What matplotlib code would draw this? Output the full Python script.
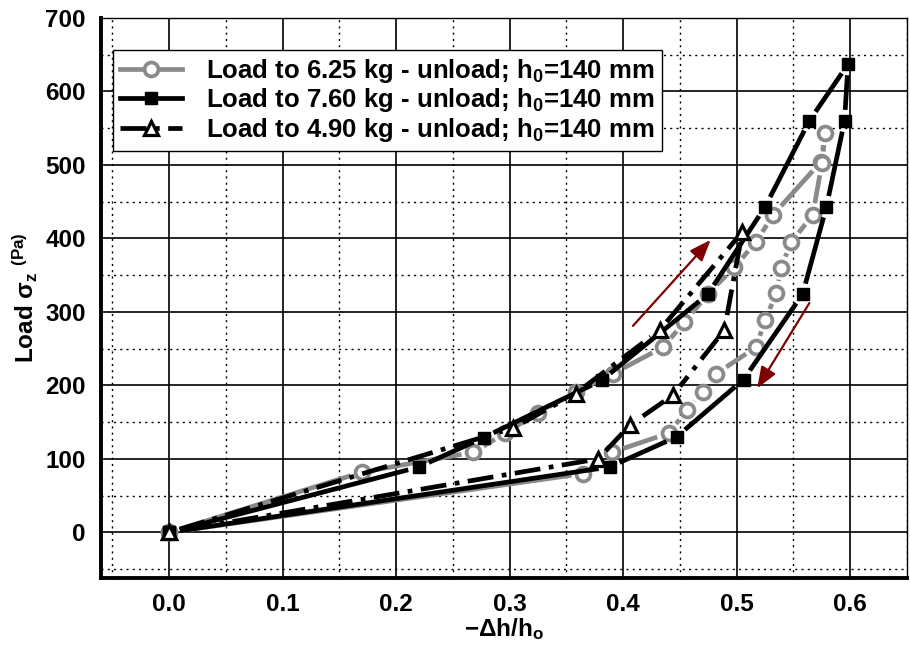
import matplotlib as mpl
import matplotlib.pyplot as plt
import numpy as np
from matplotlib.lines import Line2D
from matplotlib.ticker import MultipleLocator

mpl.rcParams['font.family'] = ['Liberation Sans', 'DejaVu Sans']
mpl.rcParams['font.weight'] = 'bold'
mpl.rcParams['mathtext.fontset'] = 'custom'
mpl.rcParams['mathtext.rm'] = 'Liberation Sans:bold'
mpl.rcParams['mathtext.it'] = 'Liberation Sans:bold'
mpl.rcParams['mathtext.bf'] = 'Liberation Sans:bold'

# 6.25 kg (灰色・丸)
x_625 = [0, 0.170, 0.268, 0.296, 0.325, 0.358, 0.391, 0.435, 0.454, 0.475, 0.498, 0.517, 0.532, 0.574, 0.578,
         0.575, 0.567, 0.548, 0.539, 0.535, 0.525, 0.517, 0.482, 0.470, 0.456, 0.440, 0.390, 0.365, 0]
y_625 = [0, 82, 109, 135, 163, 191, 216, 252, 286, 325, 361, 395, 432, 504, 543,
         502, 432, 395, 360, 326, 289, 252, 216, 191, 166, 135, 109, 80, 0]

# 7.60 kg (黒・四角)
x_760 = [0, 0.220, 0.277, 0.381, 0.4745, 0.525, 0.564, 0.598, 0.595, 0.579, 0.558, 0.506, 0.447, 0.388, 0]
y_760 = [0, 89, 129, 207, 324, 443, 560, 637, 560, 443, 324, 208, 130, 89, 0]

# 4.90 kg (黒・三角)
x_490 = [0, 0.303, 0.358, 0.432, 0.505, 0.489, 0.444, 0.406, 0.378, 0]
y_490 = [0, 142, 189, 275, 409, 275, 187, 146, 100, 0]

labels = ["Load to 6.25 kg - unload; h$_0$=140 mm",
          "Load to 7.60 kg - unload; h$_0$=140 mm",
          "Load to 4.90 kg - unload; h$_0$=140 mm"]

# 矢印 (始点, 終点)
arrows = [((0.4086, 281), (0.477, 398)),
          ((0.564, 312), (0.518, 196))]

fs = 17.5

fig = plt.figure(figsize=(9.1, 6.55), dpi=100)
ax = fig.add_axes([0.111, 0.1176, 0.8857, 0.855])
ax.set_xlim(-0.06, 0.65)
ax.set_ylim(-62, 700)

ax.xaxis.set_major_locator(MultipleLocator(0.1))
ax.xaxis.set_minor_locator(MultipleLocator(0.05))
ax.yaxis.set_major_locator(MultipleLocator(100))
ax.yaxis.set_minor_locator(MultipleLocator(50))
ax.grid(which='major', color='black', linestyle='-', linewidth=1.2)
ax.grid(which='minor', color='black', linestyle=(0, (1.5, 3)), linewidth=1.0)
ax.set_axisbelow(True)
ax.tick_params(which='both', direction='in', length=0, labelsize=fs, pad=11)
ax.set_xticks(np.arange(0, 0.61, 0.1))
ax.xaxis.set_major_formatter(mpl.ticker.FormatStrFormatter('%.1f'))
for lbl in ax.get_xticklabels() + ax.get_yticklabels():
    lbl.set_fontweight('bold')

for s in ['left', 'bottom']:
    ax.spines[s].set_linewidth(2.8)
for s in ['top', 'right']:
    ax.spines[s].set_linewidth(1.0)


def gapped(x, y, gap, **kw):
    # マーカー前後で線を切る
    trans = ax.transData
    pts = trans.transform(np.column_stack([x, y]))
    for p0, p1 in zip(pts[:-1], pts[1:]):
        d = p1 - p0
        L = np.hypot(d[0], d[1])
        if L <= 2 * gap:
            continue
        u = d / L
        seg = trans.inverted().transform(np.array([p0 + u * gap, p1 - u * gap]))
        ax.plot(seg[:, 0], seg[:, 1], solid_capstyle='butt', dash_capstyle='butt', **kw)


gray = '#8a8a8a'
lw = 3.4
gapped(x_625, y_625, 12, color=gray, linewidth=lw, zorder=3)
ax.plot(x_625, y_625, linestyle='none', marker='o', markersize=10, markerfacecolor='white',
        markeredgecolor=gray, markeredgewidth=2.7, zorder=4)

gapped(x_760, y_760, 11, color='black', linewidth=lw, zorder=5)
ax.plot(x_760, y_760, linestyle='none', marker='s', markersize=8.5, color='black', zorder=6)

gapped(x_490, y_490, 11, color='black', linewidth=lw, dashes=(5.5, 1.8, 1, 1.8), zorder=7)
ax.plot(x_490, y_490, linestyle='none', marker='^', markersize=10, markerfacecolor='white',
        markeredgecolor='black', markeredgewidth=2.3, zorder=8)

for (x0, y0), (x1, y1) in arrows:
    ax.annotate('', xy=(x1, y1), xytext=(x0, y0),
                arrowprops=dict(arrowstyle='-|>,head_length=1.3,head_width=0.5',
                                color='#7f0000', linewidth=1.6, shrinkA=0, shrinkB=0),
                zorder=9)

handles = [
    Line2D([], [], color=gray, linewidth=lw, marker='o', markersize=10, markerfacecolor='white',
           markeredgecolor=gray, markeredgewidth=2.7),
    Line2D([], [], color='black', linewidth=lw, marker='s', markersize=8.5),
    Line2D([], [], color='black', linewidth=lw, dashes=(5.5, 1.8, 1, 1.8), marker='^', markersize=10,
           markerfacecolor='white', markeredgecolor='black', markeredgewidth=2.3),
]
leg = ax.legend(handles, labels, loc='upper left', bbox_to_anchor=(0.015, 0.943), borderaxespad=0,
                fontsize=18.5, handlelength=2.4, labelspacing=0.05, handletextpad=0.95,
                fancybox=False, framealpha=1, edgecolor='black', borderpad=0.28)
leg.get_frame().set_linewidth(1.0)
for t in leg.get_texts():
    t.set_fontweight('bold')

ax.set_xlabel(r'$-\Delta$h/h$_\mathrm{o}$', fontsize=fs, fontweight='bold', labelpad=0)
ax.set_ylabel(r'Load $\sigma_z$ $^{\rm (Pa)}$', fontsize=fs, fontweight='bold', labelpad=4)

fig.savefig('out.png', dpi=100)
